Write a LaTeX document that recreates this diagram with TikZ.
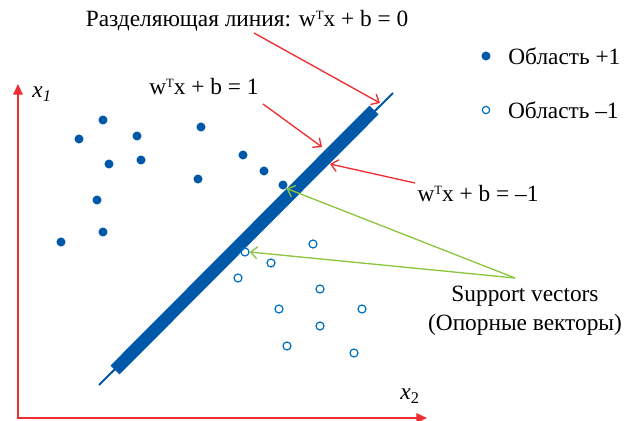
\documentclass[tikz,border=0pt]{standalone}
\usepackage{fontspec}
\setmainfont{Liberation Serif}
\usetikzlibrary{arrows.meta,positioning}
\definecolor{svmblue}{RGB}{0,88,168}
\definecolor{ringblue}{RGB}{0,112,192}
\definecolor{axisred}{RGB}{238,45,50}
\definecolor{svgreen}{RGB}{140,198,63}
\newcommand{\supT}{\raisebox{5.3pt}{\fontsize{9.5}{9.5}\selectfont T}}

\begin{document}
\begin{tikzpicture}[x=0.75pt,y=-0.75pt,
    posdot/.style={circle,fill=svmblue,inner sep=0pt,minimum size=6.8pt},
    negdot/.style={circle,draw=ringblue,line width=0.9pt,inner sep=0pt,minimum size=6pt},
    lbl/.style={font=\fontsize{17.5}{21.75}\selectfont,inner sep=1pt},
    redarr/.style={draw=axisred,line width=1pt,-{Straight Barb[length=5pt,width=9pt]}},
    greenarr/.style={draw=svgreen,line width=1pt,-{Straight Barb[length=5pt,width=9pt]}},
    axis/.style={draw=axisred,line width=1.5pt,{Triangle[length=8pt,width=7pt]}-{Triangle[length=8pt,width=7pt]}}
  ]
    \useasboundingbox (0,0) rectangle (633,421);

    \coordinate (O) at (18,418);
    \coordinate (ytop) at (18,84);
    \coordinate (xend) at (427,418);
    \draw [axis] (ytop) -- (O) -- (xend);
    \node [lbl] (xone) at (42,94) {\textit{x}\textsubscript{\textit{1}}};
    \node [lbl] (xtwo) at (410,396) {\textit{x}\textsubscript{2}};

    \coordinate (hA) at (99,385);
    \coordinate (hB) at (393,93);
    \coordinate (mA) at (115,370);
    \coordinate (mB) at (374,110);
    \draw [svmblue,line width=1.5pt] (hA) -- (hB);
    \draw [svmblue,line width=9.5pt] (mA) -- (mB);

    \node [posdot] (p1) at (103,120) {};
    \node [posdot] (p2) at (79,139) {};
    \node [posdot] (p3) at (137,136) {};
    \node [posdot] (p4) at (201,127) {};
    \node [posdot] (p5) at (109,164) {};
    \node [posdot] (p6) at (141,160) {};
    \node [posdot] (p7) at (243,155) {};
    \node [posdot] (p8) at (264,171) {};
    \node [posdot] (p9) at (198,179) {};
    \node [posdot] (p10) at (283,185) {};
    \node [posdot] (p11) at (97,200) {};
    \node [posdot] (p12) at (103,232) {};
    \node [posdot] (p13) at (61,242) {};

    \node [negdot] (n1) at (245,252) {};
    \node [negdot] (n2) at (313,244) {};
    \node [negdot] (n3) at (271,263) {};
    \node [negdot] (n4) at (238,278) {};
    \node [negdot] (n5) at (320,289) {};
    \node [negdot] (n6) at (279,309) {};
    \node [negdot] (n7) at (362,309) {};
    \node [negdot] (n8) at (320,326) {};
    \node [negdot] (n9) at (287,346) {};
    \node [negdot] (n10) at (354,353) {};

    \node [lbl] (sep) at (247,21) {Разделяющая линия: w\supT x + b = 0};
    \node [lbl] (plus) at (204,87) {w\supT x + b = 1};
    \node [lbl] (minus) at (478,194) {w\supT x + b = –1};
    \node [lbl,align=center] (sv) at (525,311) {Support vectors\\(Опорные векторы)};

    \coordinate (sepS) at (254,33);
    \coordinate (sepE) at (380,103);
    \coordinate (plusS) at (263,104);
    \coordinate (plusE) at (322,147);
    \coordinate (minusS) at (415,183);
    \coordinate (minusE) at (330,164);
    \coordinate (svS) at (515,278);
    \draw [redarr] (sepS) -- (sepE);
    \draw [redarr] (plusS) -- (plusE);
    \draw [redarr] (minusS) -- (minusE);
    \draw [greenarr] (svS) -- (p10.south east);
    \draw [greenarr] (svS) -- (n1.east);

    \node [posdot] (lpos) at (486,56) {};
    \node [lbl,right=12pt of lpos] (lposT) {Область +1};
    \node [negdot,minimum size=5.5pt] (lneg) at (486,110) {};
    \node [lbl,right=12.2pt of lneg] (lnegT) {Область –1};
\end{tikzpicture}
\end{document}
